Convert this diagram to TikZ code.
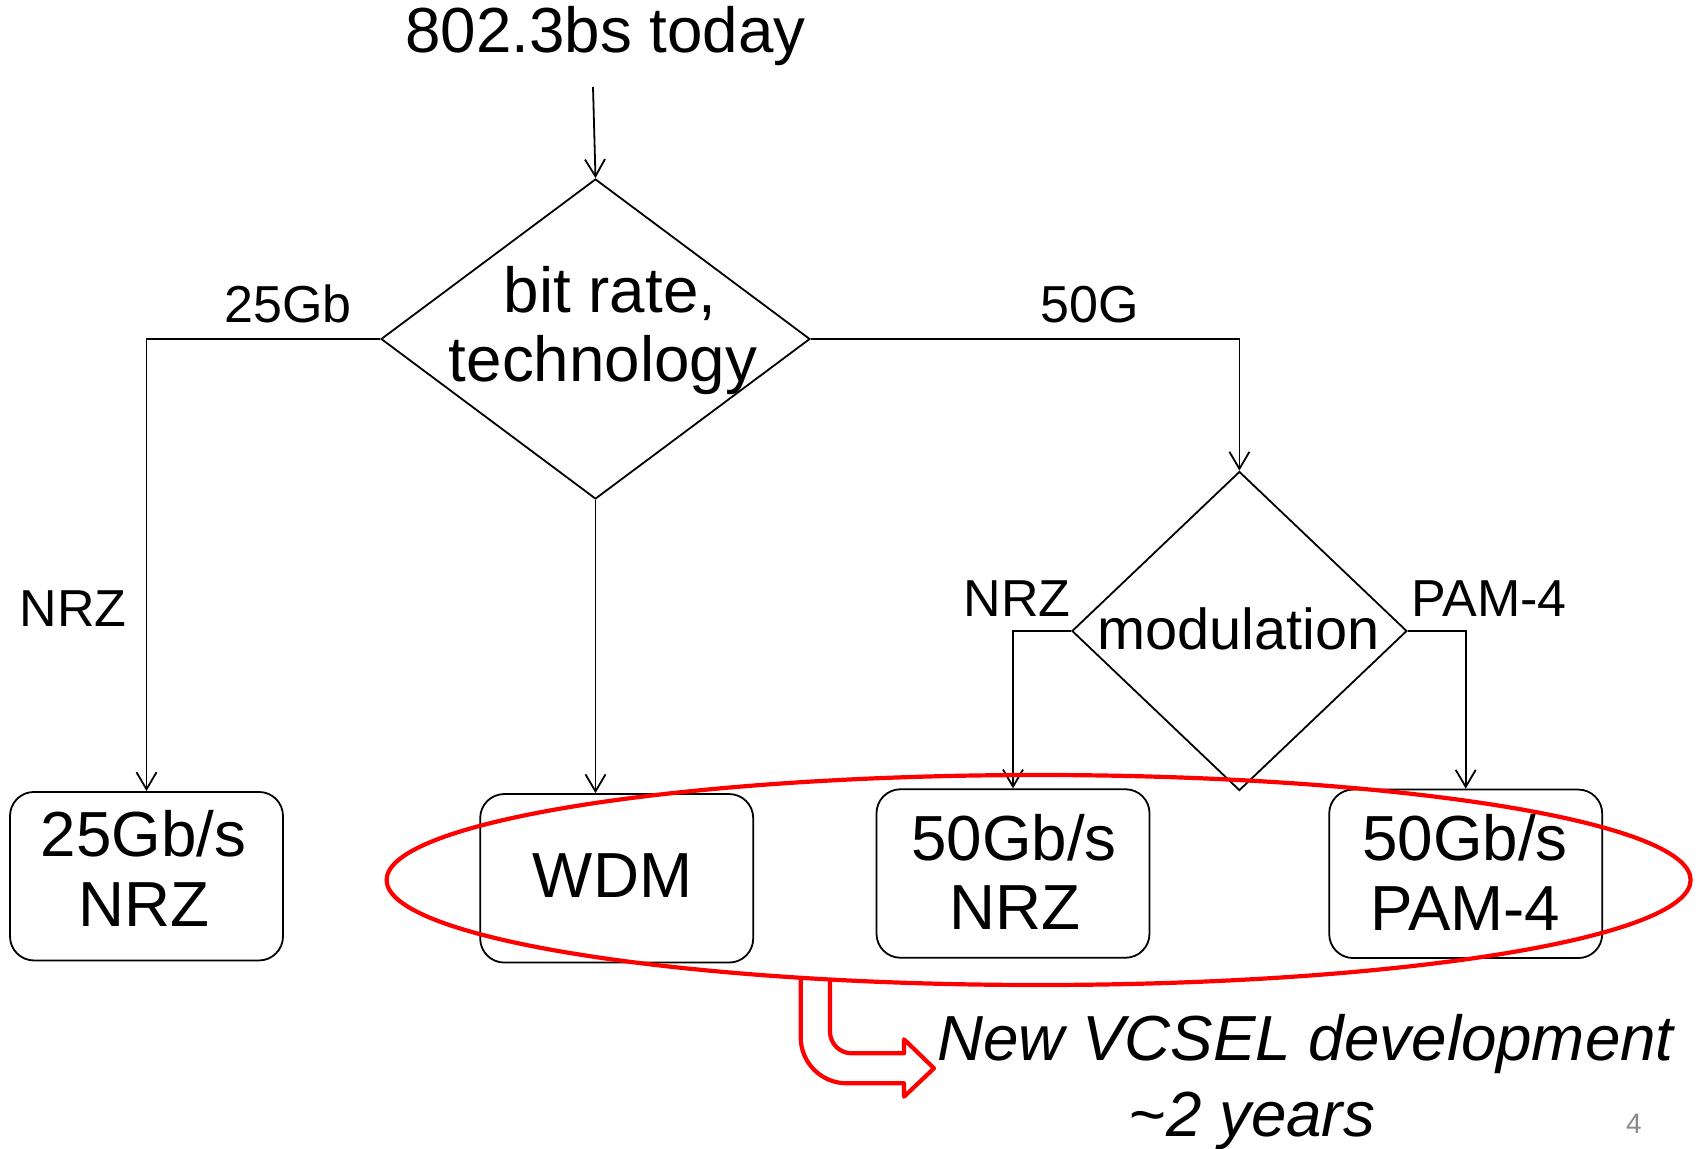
\documentclass[tikz,border=0pt]{standalone}
\usepackage{fontspec}
\setmainfont{Liberation Sans}
\usetikzlibrary{shapes.geometric,arrows.meta}
\definecolor{pagegray}{HTML}{8A8A8A}
\begin{document}
\begin{tikzpicture}[x=0.5pt,y=-0.5pt,
  bigtxt/.style={anchor=base,inner sep=0pt,font=\fontsize{31.85pt}{38pt}\selectfont},
  midtxt/.style={anchor=base,inner sep=0pt,font=\fontsize{28.85pt}{34pt}\selectfont},
  lbltxt/.style={anchor=base,inner sep=0pt,font=\fontsize{26pt}{31pt}\selectfont},
  ittxt/.style={anchor=base,inner sep=0pt,font=\fontsize{31.85pt}{38pt}\selectfont\itshape},
  decision/.style={diamond,draw,line width=0.9pt,inner sep=0pt},
  outbox/.style={rectangle,draw,line width=0.9pt,rounded corners=12pt,inner sep=0pt,
                 minimum width=136.5pt,minimum height=84.25pt},
  arr/.style={line width=0.9pt,-{Straight Barb[length=8.5pt,width=10pt]}},
  redline/.style={draw=red,line width=2.1pt}]
\useasboundingbox (0,0) rectangle (1701,1149);

% decisions
\node[decision,minimum width=214.5pt,minimum height=160pt] (d1) at (595.5,339) {};
\node[decision,minimum width=167.5pt,minimum height=159.5pt] (d2) at (1239.4,631) {};

% outcome boxes
\node[outbox] (b1) at (146.5,876.2) {};
\node[outbox] (wdm) at (616.7,878.3) {};
\node[outbox] (b3) at (1013,873.5) {};
\node[outbox] (b4) at (1465.7,873.8) {};

% texts
\node[bigtxt] (today) at (605.5,53) {802.3bs today};
\coordinate (start) at (593,87);
\node[bigtxt] (t1a) at (610,313) {bit rate,};
\node[bigtxt] (t1b) at (603,382) {technology};
\node[midtxt] (t2) at (1238.6,649.3) {modulation};

\node[lbltxt] (l25) at (288,323) {25Gb};
\node[lbltxt] (l50) at (1090,322.5) {50G};
\node[lbltxt] (lnrz1) at (73,626) {NRZ};
\node[lbltxt] (lnrz2) at (1017,616) {NRZ};
\node[lbltxt] (lpam) at (1489,616) {PAM-4};

\node[bigtxt] (b1a) at (143.3,856) {25Gb/s};
\node[bigtxt] (b1b) at (144,926) {NRZ};
\node[bigtxt] (wdmt) at (612.5,897.7) {WDM};
\node[bigtxt] (b3a) at (1014,860.7) {50Gb/s};
\node[bigtxt] (b3b) at (1015,929.3) {NRZ};
\node[bigtxt] (b4a) at (1465,860.7) {50Gb/s};
\node[bigtxt] (b4b) at (1465.3,930) {PAM-4};

\node[ittxt] (vcsel) at (1305.5,1060.7) {New VCSEL development};
\node[ittxt] (yrs) at (1252,1136) {\textasciitilde2 years};
\node[anchor=base,inner sep=0pt,text=pagegray,font=\fontsize{14pt}{17pt}\selectfont] (pg) at (1634,1133) {4};

% connectors
\draw[arr] (start) -- (d1.north);
\draw[arr] (d1.west) -| (b1.north);
\draw[arr] (d1.south) -- (d1.south |- wdm.north);
\draw[arr] (d1.east) -| (d2.north);
\draw[arr] (d2.west) -| (b3.north);
\draw[arr] (d2.east) -| (b4.north);

% red grouping ellipse
\node[ellipse,redline,inner sep=0pt,minimum width=652pt,minimum height=105pt] (grp) at (1038.6,880) {};

% red bent arrow
\draw[redline,line join=round]
  (800.7,977.8) -- (800.7,1037.3)
  .. controls (800.7,1062.7) and (821.3,1083.3) .. (846.7,1083.3)
  -- (904,1083.3) -- (904,1096.7) -- (934,1068.3) -- (904,1039.3) -- (904,1053.3)
  -- (851.7,1053.3)
  .. controls (839.7,1053.3) and (830,1043.6) .. (830,1031.6)
  -- (830,979.5);
\end{tikzpicture}
\end{document}
